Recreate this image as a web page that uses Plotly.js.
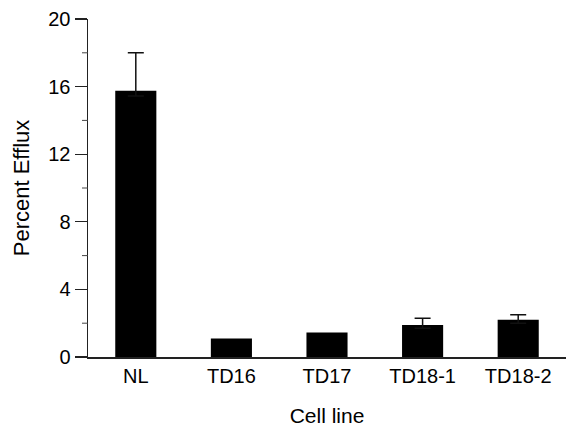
<!DOCTYPE html>
<html>
<head>
<meta charset="utf-8">
<script src="https://cdn.plot.ly/plotly-3.0.1.min.js"></script>
<style>html,body{margin:0;padding:0;background:#fff;}#chart{width:569px;height:427px;}</style>
</head>
<body>
<div id="chart"></div>
<script>
const categories = ["NL", "TD16", "TD17", "TD18-1", "TD18-2"];
const efflux = [15.75, 1.1, 1.45, 1.9, 2.2];
const errCategories = ["NL", "TD18-1", "TD18-2"];
const errTops = [15.75, 1.9, 2.2];
const errors = [2.25, 0.4, 0.3];
const errorsBelow = [0.3, 0.2, 0.2];
const yMinorTicks = [2, 6, 10, 14, 18];

const W = 569, H = 427, ML = 88, MR = 3;
const plotW = W - ML - MR;
const minorLen = 6;

const barTrace = {
  type: "bar",
  x: categories,
  y: efflux,
  width: 0.43,
  marker: {color: "#000", line: {width: 0}}
};

const errTrace = {
  type: "scatter", mode: "markers",
  x: errCategories, y: errTops,
  marker: {size: 1, opacity: 0},
  error_y: {type: "data", symmetric: false, array: errors, arrayminus: errorsBelow,
            visible: true, color: "#111", thickness: 1.5, width: 8}
};

const layout = {
  width: W, height: H,
  margin: {l: ML, r: MR, t: 19, b: 70},
  paper_bgcolor: "#fff", plot_bgcolor: "#fff",
  showlegend: false,
  font: {family: "Liberation Sans, Arial, sans-serif", color: "#000", size: 20},
  xaxis: {
    type: "category",
    categoryarray: categories,
    range: [-0.5, 4.5],
    showline: true, linecolor: "#222", linewidth: 1.5,
    ticks: "", showgrid: false, zeroline: false,
    tickfont: {size: 20},
    title: {text: "Cell line", font: {size: 21}, standoff: 26}
  },
  yaxis: {
    range: [0, 20],
    tickmode: "linear", tick0: 0, dtick: 4,
    showline: true, linecolor: "#222", linewidth: 1.5,
    ticks: "outside", ticklen: 12, tickwidth: 1.2, tickcolor: "#222",
    showgrid: false, zeroline: false,
    tickfont: {size: 20},
    title: {text: "Percent Efflux", font: {size: 22}, standoff: 12}
  },
  shapes: yMinorTicks.map(v => ({
    type: "line", xref: "paper", yref: "y",
    x0: -minorLen / plotW, x1: 0, y0: v, y1: v,
    line: {color: "#444", width: 1}
  }))
};

Plotly.newPlot("chart", [barTrace, errTrace], layout, {displayModeBar: false, staticPlot: true});
</script>
</body>
</html>
